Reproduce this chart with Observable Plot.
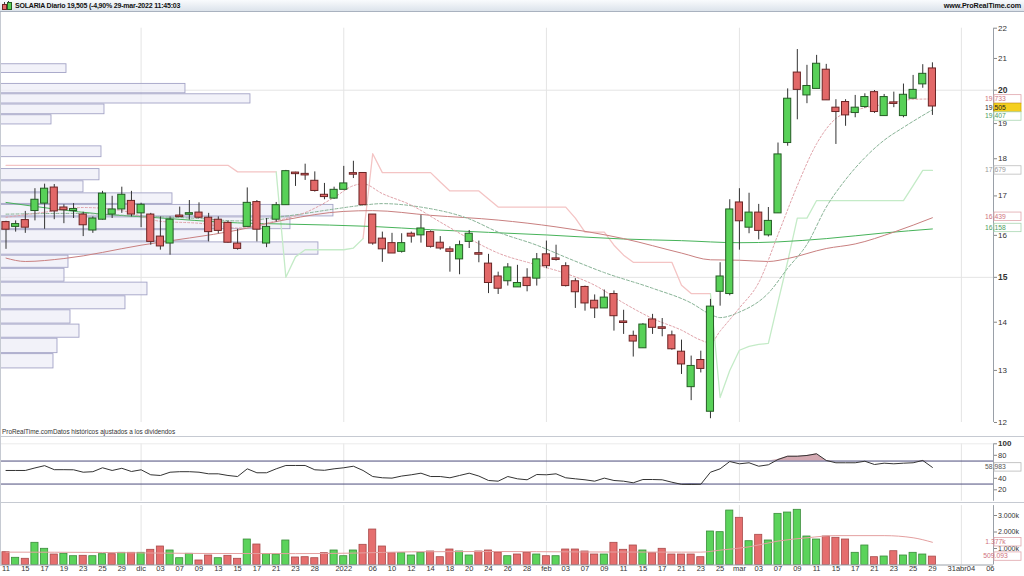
<!DOCTYPE html>
<html>
<head>
<meta charset="utf-8">
<script src="https://cdn.jsdelivr.net/npm/d3@7"></script>
<script src="https://cdn.jsdelivr.net/npm/@observablehq/plot@0.6"></script>
<style>
html,body{margin:0;padding:0;background:#fff;}
#wrap{position:relative;width:1024px;height:576px;overflow:hidden;background:#fff;font-family:"Liberation Sans",Arial,sans-serif;}
#hdr{position:absolute;left:0;top:0;width:1024px;height:11px;background:linear-gradient(#f9fbfd,#dce3eb);border-bottom:1px solid #a9b2bf;}
#hdrTitle{position:absolute;left:15px;top:0px;font-size:7px;line-height:11px;color:#111;white-space:nowrap;font-weight:bold;letter-spacing:-0.2px;}
#hdrSite{position:absolute;right:3px;top:0px;font-size:7.2px;line-height:11px;font-weight:bold;color:#111;letter-spacing:-0.1px;}
.ic{position:absolute;}
.panel{position:absolute;left:0;width:1024px;}
.sep{position:absolute;left:0;width:1024px;height:1px;background:#c6cad2;}
#note{position:absolute;left:2px;top:428px;font-size:6.4px;line-height:8px;color:#333;white-space:nowrap;}
#lborder{position:absolute;left:0;top:12px;width:1px;height:553px;background:#c6cad2;}
</style>
</head>
<body>
<div id="wrap">
  <div id="pricePanel" class="panel" style="top:12px;height:424px"></div>
  <div id="rsiPanel" class="panel" style="top:436px;height:66px"></div>
  <div id="volPanel" class="panel" style="top:502px;height:74px"></div>
  <div class="sep" style="top:436px"></div>
  <div class="sep" style="top:502px"></div>
  <div id="lborder"></div>
  <div id="note">ProRealTime.comDatos históricos ajustados a los dividendos</div>
  <div id="hdr">
    <div class="ic" style="left:4px;top:2px;width:1px;height:8px;background:#444"></div>
    <div class="ic" style="left:2px;top:4px;width:3px;height:4px;background:#e26868;border:0.5px solid #6a2424"></div>
    <div class="ic" style="left:8px;top:1px;width:1px;height:9px;background:#444"></div>
    <div class="ic" style="left:6.5px;top:2px;width:3px;height:6px;background:#58d158;border:0.5px solid #245c24"></div>
    <div id="hdrTitle"></div>
    <div id="hdrSite">www.ProRealTime.com</div>
  </div>
</div>
<script>
// ---------------- DATA ----------------
const dates = [
 "2021-11-11","2021-11-12","2021-11-15","2021-11-16","2021-11-17","2021-11-18","2021-11-19","2021-11-22","2021-11-23","2021-11-24","2021-11-25","2021-11-26","2021-11-29","2021-11-30",
 "2021-12-01","2021-12-02","2021-12-03","2021-12-06","2021-12-07","2021-12-08","2021-12-09","2021-12-10","2021-12-13","2021-12-14","2021-12-15","2021-12-16","2021-12-17","2021-12-20","2021-12-21","2021-12-22","2021-12-23","2021-12-27","2021-12-28","2021-12-29","2021-12-30",
 "2022-01-03","2022-01-04","2022-01-05","2022-01-06","2022-01-07","2022-01-10","2022-01-11","2022-01-12","2022-01-13","2022-01-14","2022-01-17","2022-01-18","2022-01-19","2022-01-20","2022-01-21","2022-01-24","2022-01-25","2022-01-26","2022-01-27","2022-01-28","2022-01-31",
 "2022-02-01","2022-02-02","2022-02-03","2022-02-04","2022-02-07","2022-02-08","2022-02-09","2022-02-10","2022-02-11","2022-02-14","2022-02-15","2022-02-16","2022-02-17","2022-02-18","2022-02-21","2022-02-22","2022-02-23","2022-02-24","2022-02-25","2022-02-28",
 "2022-03-01","2022-03-02","2022-03-03","2022-03-04","2022-03-07","2022-03-08","2022-03-09","2022-03-10","2022-03-11","2022-03-14","2022-03-15","2022-03-16","2022-03-17","2022-03-18","2022-03-21","2022-03-22","2022-03-23","2022-03-24","2022-03-25","2022-03-28","2022-03-29"
];
const futureDates = ["2022-03-30","2022-03-31","2022-04-01","2022-04-04","2022-04-05","2022-04-06"];

const open = [16.33,16.21,16.38,16.61,16.80,17.22,16.70,16.61,16.52,16.12,16.39,16.52,16.65,16.87,16.55,16.52,15.97,15.80,16.48,16.52,16.57,16.44,16.39,16.31,15.80,16.21,16.84,15.80,16.39,16.76,17.61,17.58,17.40,17.03,16.93,17.16,17.59,17.61,16.52,15.92,15.81,15.60,16.04,16.00,16.08,15.82,15.66,15.42,15.84,15.56,15.32,15.02,14.91,14.77,14.99,14.97,15.54,15.43,15.26,14.91,14.78,14.47,14.30,14.62,14.01,13.71,13.45,14.06,13.88,13.72,13.38,12.67,13.21,12.20,14.67,14.62,16.83,16.19,16.57,16.00,16.55,18.44,20.55,19.84,20.04,20.64,19.47,19.64,19.31,19.49,19.94,19.22,19.61,19.22,19.74,20.18,20.68];
const high = [16.35,16.36,16.60,17.19,17.31,17.30,16.77,16.80,16.58,16.46,17.12,16.99,17.23,17.12,16.81,16.55,16.46,16.46,16.71,16.88,16.82,16.55,16.46,16.35,16.15,17.21,16.88,16.42,16.83,17.68,17.63,17.85,17.64,17.33,17.23,17.79,17.93,17.62,16.52,16.08,16.05,16.04,16.08,16.50,16.11,15.97,15.72,15.86,16.12,15.86,15.54,15.12,15.32,15.28,15.20,15.56,15.86,15.76,15.34,14.97,14.80,14.60,14.71,14.69,14.26,13.81,13.97,14.17,14.08,13.81,13.62,13.29,13.39,14.50,15.34,16.90,17.19,17.07,16.78,16.70,18.44,20.04,21.29,20.78,21.10,20.81,19.71,19.71,19.84,19.89,19.99,19.87,19.94,20.19,20.46,20.80,20.86];
const low = [15.66,16.08,16.05,16.36,16.15,16.39,16.29,16.42,15.97,16.05,16.38,16.42,16.55,16.46,16.19,15.76,15.64,15.52,16.46,16.38,16.42,15.84,16.04,15.81,15.64,16.21,15.84,15.70,16.33,16.76,17.25,17.41,17.10,16.90,16.91,17.16,17.46,16.76,15.76,15.35,15.56,15.57,15.81,15.81,15.69,15.64,15.12,15.06,15.68,15.34,14.63,14.61,14.80,14.77,14.67,14.80,15.20,15.38,14.78,14.30,14.24,14.08,14.30,13.81,13.74,13.27,13.45,13.74,13.69,13.41,12.92,12.41,12.95,12.07,14.35,14.58,15.64,16.04,15.89,15.96,16.55,18.35,19.11,19.59,20.04,19.69,18.40,18.92,19.17,19.45,19.30,19.22,19.47,19.17,19.74,20.06,19.24];
const close = [16.14,16.28,16.19,16.90,17.19,16.60,16.63,16.66,16.25,16.42,17.06,16.65,17.03,16.52,16.77,15.84,15.73,16.39,16.47,16.55,16.44,16.08,16.11,15.82,15.67,16.82,16.14,16.21,16.76,17.66,17.59,17.55,17.13,16.97,17.16,17.33,17.58,16.76,15.80,15.66,15.56,15.81,15.97,16.17,15.72,15.68,15.60,15.76,16.04,15.54,14.87,14.74,15.23,14.87,14.80,15.42,15.26,15.42,14.80,14.66,14.41,14.30,14.54,14.13,13.99,13.59,13.95,13.88,13.87,13.43,13.12,13.09,13.03,14.34,15.02,16.65,16.35,16.57,16.11,16.36,18.12,19.74,20.01,20.13,20.83,19.69,19.34,19.24,19.47,19.79,19.34,19.79,19.60,19.86,20.01,20.51,19.505];
const prevCloseBeforeStart = 16.45;

// volume, thousands of shares
const volume = [776,436,376,1345,982,636,679,533,557,533,655,655,739,739,739,921,1121,879,412,679,273,576,412,557,376,1545,1242,655,636,1485,455,473,412,715,879,533,879,1224,2150,1121,715,715,576,739,818,473,939,818,576,818,879,758,533,636,739,636,533,533,939,939,818,636,636,1345,921,1182,879,715,982,636,636,636,473,2030,1990,3300,2860,1442,1830,1485,3100,3180,3345,1727,1545,1727,1648,1545,739,1182,473,515,836,576,739,636,509.093];
const volMaDates = ["2021-11-11","2021-11-25","2021-12-09","2021-12-23","2022-01-04","2022-01-12","2022-01-24","2022-02-07","2022-02-21","2022-02-23","2022-02-25","2022-03-02","2022-03-07","2022-03-10","2022-03-15","2022-03-22","2022-03-25","2022-03-29"];
const volMa = [780,760,700,690,720,800,820,790,780,780,900,1100,1450,1650,1780,1780,1650,1377];

// RSI(14)
const rsi = [53.6,53.6,53.6,58,62,55,55,54.8,50.6,51.5,58.3,53.6,57.4,51.8,54.8,46.1,44.9,50.6,51.5,51.5,50.6,47.8,47.8,44.9,43.1,56.5,49.6,49.6,56.5,62.3,62.3,62.3,54.8,53.9,56.5,58.3,61,53.6,43.1,40.9,40.3,43.9,46.1,48.9,43.1,43.1,40.9,44.9,48.9,43.9,36.2,35,43.1,39.1,37.4,46.6,46.1,47.8,40.9,39.1,37.4,35,40.3,36.2,35,32.2,37.9,37.9,37.4,33.2,29.5,29.3,29.6,50.6,56.5,69.2,65.2,67,61,63.5,72.7,78.4,78.4,79.7,82.6,71,67,67,67,69.7,64,66.3,65.2,66.3,67,71,58.983];
const rsiLevels = [70,30];

// trailing stop (pink above price in downtrend, green below in uptrend)
const stopDown = [17.82,17.82,17.82,17.82,17.82,17.82,17.82,17.82,17.82,17.82,17.82,17.82,17.82,17.82,17.82,17.82,17.82,17.82,17.82,17.82,17.82,17.82,17.82,17.82,
 17.64,17.64,17.64,17.64,17.64,null,null,null,null,null,null,null,null,15.92,18.14,17.62,17.62,17.62,17.62,17.62,17.62,17.37,17.13,17.13,17.13,17.13,16.92,
 16.71,16.71,16.71,16.71,16.71,16.71,16.71,16.71,16.43,16.08,16.08,16.08,15.76,15.52,15.35,15.35,15.35,15.35,15.35,14.82,14.63,14.63,14.63,
 null,null,null,null,null,null,null,null,null,null,null,null,null,null,null,null,null,null,null,null,null,null,null];
const stopUp = [null,null,null,null,null,null,null,null,null,null,null,null,null,null,null,null,null,null,null,null,null,null,null,null,null,null,null,null,
 17.64,15.00,15.48,15.65,15.65,15.65,15.65,15.65,15.69,15.92,
 null,null,null,null,null,null,null,null,null,null,null,null,null,null,null,null,null,null,null,null,null,null,null,null,null,null,null,null,null,null,null,null,null,null,null,
 14.63,12.47,13.00,13.41,13.49,13.53,13.55,14.44,15.37,16.43,16.43,16.88,16.88,16.88,16.88,16.88,16.88,16.88,16.88,16.88,16.88,17.27,17.679,17.679];

// moving averages (read at selected sessions)
const maFastDates = ["2021-11-11","2021-11-17","2021-11-23","2021-11-29","2021-12-03","2021-12-09","2021-12-15","2021-12-17","2021-12-21","2021-12-27","2021-12-30","2022-01-04","2022-01-05","2022-01-07","2022-01-12","2022-01-17","2022-01-20","2022-01-25","2022-01-31","2022-02-03","2022-02-08","2022-02-11","2022-02-16","2022-02-21","2022-02-23","2022-02-24","2022-02-25","2022-03-01","2022-03-03","2022-03-07","2022-03-09","2022-03-11","2022-03-15","2022-03-17","2022-03-22","2022-03-25","2022-03-29"];
const maFast = [16.45,16.58,16.70,16.62,16.35,16.30,16.18,16.25,16.36,16.57,16.96,17.27,17.32,17.06,16.76,16.33,15.92,15.57,15.29,15.09,14.82,14.42,14.08,13.83,13.62,13.56,13.81,14.31,14.88,16.02,17.27,18.42,19.15,19.39,19.57,19.72,19.733];
const maMidDates = ["2021-11-11","2021-11-22","2021-12-01","2021-12-09","2021-12-15","2021-12-22","2021-12-30","2022-01-05","2022-01-07","2022-01-13","2022-01-20","2022-01-25","2022-01-31","2022-02-03","2022-02-09","2022-02-16","2022-02-22","2022-02-24","2022-02-25","2022-03-01","2022-03-04","2022-03-08","2022-03-10","2022-03-14","2022-03-16","2022-03-18","2022-03-22","2022-03-24","2022-03-29"];
const maMid = [16.53,16.55,16.48,16.42,16.36,16.48,16.66,16.76,16.80,16.71,16.41,16.08,15.76,15.47,15.11,14.75,14.42,14.17,14.10,14.22,14.64,15.21,15.78,16.71,17.43,18.03,18.52,18.89,19.407];
const maSlowDates = ["2021-11-11","2021-11-15","2021-11-19","2021-12-01","2021-12-15","2021-12-22","2022-01-03","2022-01-06","2022-01-14","2022-01-25","2022-02-02","2022-02-11","2022-02-21","2022-02-24","2022-03-01","2022-03-04","2022-03-08","2022-03-14","2022-03-17","2022-03-23","2022-03-29"];
const maSlow = [15.45,15.37,15.44,15.76,16.13,16.39,16.60,16.62,16.50,16.38,16.21,15.92,15.57,15.41,15.40,15.37,15.44,15.68,15.79,16.08,16.439];
const maLongDates = ["2021-11-11","2021-11-25","2021-12-02","2021-12-15","2021-12-22","2022-01-06","2022-01-14","2022-02-01","2022-02-11","2022-02-21","2022-03-01","2022-03-07","2022-03-14","2022-03-22","2022-03-29"];
const maLong = [16.83,16.53,16.45,16.31,16.28,16.22,16.14,16.01,15.91,15.87,15.82,15.84,15.92,16.06,16.158];

// volume-at-price profile
const profLow  = [20.52,19.89,19.58,19.26,18.96,18.03,17.40,17.08,16.78,16.46,16.14,15.84,15.52,15.21,14.89,14.58,14.27,13.96,13.66,13.34,13.03];
const profHigh = [20.83,20.21,19.89,19.58,19.26,18.36,17.73,17.40,17.08,16.78,16.46,16.14,15.84,15.52,15.21,14.89,14.58,14.27,13.96,13.66,13.34];
const profVol  = [66,185,250,104,51,101,99,83,172,333,290,208,318,68,64,147,125,70,79,57,53];

// axes
const tickDates = ["2021-11-11","2021-11-15","2021-11-17","2021-11-19","2021-11-23","2021-11-25","2021-11-29","2021-12-01","2021-12-03","2021-12-07","2021-12-09","2021-12-13","2021-12-15","2021-12-17","2021-12-21","2021-12-23","2021-12-28","2022-01-03","2022-01-06","2022-01-10","2022-01-12","2022-01-14","2022-01-18","2022-01-20","2022-01-24","2022-01-26","2022-01-28","2022-02-01","2022-02-03","2022-02-07","2022-02-09","2022-02-11","2022-02-15","2022-02-17","2022-02-21","2022-02-23","2022-02-25","2022-03-01","2022-03-03","2022-03-07","2022-03-09","2022-03-11","2022-03-15","2022-03-17","2022-03-21","2022-03-23","2022-03-25","2022-03-29","2022-03-31","2022-04-01","2022-04-04","2022-04-06"];
const tickLabels = ["11","15","17","19","23","25","29","dic","03","07","09","13","15","17","21","23","28","2022","06","10","12","14","18","20","24","26","28","feb","03","07","09","11","15","17","21","23","25","mar","03","07","09","11","15","17","21","23","25","29","31","abr","04","06"];
const monthLabels = ["dic","2022","feb","mar","abr"];
const gridDates = ["2021-12-01","2022-01-03","2022-02-01","2022-03-01","2022-04-01"];
const priceTicks = [12,13,14,16,17,18,19,21,22];
const priceBoldTicks = [15,20];
const rsiTicks = [20,40,80];
const rsiBoldTicks = [100];
const volTicks = [1000,2000,3000];

// ---------------- RENDER ----------------
const allDates = dates.concat(futureDates);
const ix = d => allDates.indexOf(d);
const XD = [-0.57, 102.33];
const W = 1024, MR = 31;
const FONT = "'Liberation Sans', Arial, sans-serif";
const GREEN = "#58d158", GREEN_EDGE = "#245c24", RED = "#e26868", RED_EDGE = "#6a2424";
const VGREEN = "#5bd35b", VGREEN_EDGE = "#3a8c3a", VRED = "#e56e6e", VRED_EDGE = "#a84a4a";
const HW = 0.37;
const BH = 8.4; // badge height
const fmtC = (v, d=3) => v.toFixed(d).replace(".", ",");

const bars = dates.map((d, i) => ({
  i, o: open[i], h: high[i], l: low[i], c: close[i], v: volume[i], r: rsi[i],
  up: close[i] >= (i ? close[i-1] : prevCloseBeforeStart)
}));
const bodyLo = d => { const a = Math.min(d.o, d.c), b = Math.max(d.o, d.c); if (b / a < 1.0024) { const m = Math.sqrt(a * b); return m / 1.0012; } return a; };
const bodyHi = d => { const a = Math.min(d.o, d.c), b = Math.max(d.o, d.c); if (b / a < 1.0024) { const m = Math.sqrt(a * b); return m * 1.0012; } return b; };

const sparse = (ds, vs) => ds.map((d, k) => ({i: ix(d), v: vs[k]}));
const stopDn = stopDown.map((v, i) => ({i, v}));
const stopUpR = stopUp.map((v, i) => ({i, v}));
const prof = profLow.map((lo, k) => ({lo, hi: profHigh[k], v: profVol[k]}));
const profMax = d3.max(profVol);
const profSpan = 34.5; // share of the x extent used by the longest profile row
const gridIx = gridDates.map(ix);
const ticks = tickDates.map((d, k) => ({i: ix(d), t: tickLabels[k], b: monthLabels.includes(tickLabels[k])}));

function badge(svg, y, label, fill, stroke, color) {
  const g = d3.select(svg).append("g");
  g.append("rect").attr("x", 994).attr("y", y - BH / 2).attr("width", 27).attr("height", BH)
    .attr("fill", fill).attr("stroke", stroke).attr("stroke-width", 0.8);
  g.append("text").attr("x", 995.5).attr("y", y).attr("dy", "0.35em")
    .attr("font-size", 6.8).attr("font-family", FONT).attr("fill", color).text(label);
}
// place badges top-down so they do not overlap
function badgeStack(svg, items) {
  items.sort((a, b) => a.y - b.y);
  let prevY = -Infinity;
  for (const it of items) {
    const y = Math.max(it.y, prevY + BH + 0.2);
    badge(svg, y, it.label, it.fill, it.stroke, it.color);
    prevY = y;
  }
}

// ---- price panel ----
const pricePlot = Plot.plot({
  width: W, height: 424, marginLeft: 0, marginRight: MR, marginTop: 15.7, marginBottom: 14,
  x: {domain: XD, axis: null},
  y: {type: "log", domain: [12, 22], axis: null},
  style: {fontFamily: FONT, background: "transparent", color: "#333", overflow: "visible"},
  marks: [
    Plot.ruleY(priceBoldTicks, {stroke: "#e4e4e4"}),
    Plot.ruleX(gridIx, {stroke: "#e4e4e4"}),
    Plot.rect(prof, {x1: () => XD[0], x2: d => XD[0] + d.v / profMax * profSpan, y1: "lo", y2: "hi",
      fill: "#ededf7", fillOpacity: 0.75, stroke: "#a3a3c6", strokeWidth: 0.9, insetTop: 0.5, insetBottom: 0.5}),
    Plot.line(stopDn, {x: "i", y: "v", stroke: "#f4c4c4", strokeWidth: 1.3}),
    Plot.line(stopUpR, {x: "i", y: "v", stroke: "#c4ebc7", strokeWidth: 1.3}),
    Plot.line(sparse(maLongDates, maLong), {x: "i", y: "v", stroke: "#47b35a", strokeWidth: 1, curve: "monotone-x"}),
    Plot.line(sparse(maSlowDates, maSlow), {x: "i", y: "v", stroke: "#c98080", strokeWidth: 1, curve: "monotone-x"}),
    Plot.line(sparse(maMidDates, maMid), {x: "i", y: "v", stroke: "#88b396", strokeWidth: 1, strokeDasharray: "3,2", curve: "monotone-x"}),
    Plot.line(sparse(maFastDates, maFast), {x: "i", y: "v", stroke: "#e0a2a9", strokeWidth: 1, strokeDasharray: "2,2", curve: "monotone-x"}),
    Plot.ruleX(bars, {x: "i", y1: "l", y2: "h", stroke: "#333", strokeWidth: 1}),
    Plot.rect(bars, {x1: d => d.i - HW, x2: d => d.i + HW, y1: bodyLo, y2: bodyHi,
      fill: d => d.c >= d.o ? GREEN : RED, stroke: d => d.c >= d.o ? GREEN_EDGE : RED_EDGE, strokeWidth: 1}),
    Plot.ruleX([XD[1]], {stroke: "#9aa0a8"}),
    Plot.axisY({anchor: "right", ticks: priceTicks, tickSize: 3, tickPadding: 1.5, fontSize: 8, stroke: "#888", label: null}),
    Plot.axisY({anchor: "right", ticks: priceBoldTicks, tickSize: 3, tickPadding: 1.5, fontSize: 8.5, fontWeight: "bold", stroke: "#888", label: null})
  ]
});
document.getElementById("pricePanel").appendChild(pricePlot);
{
  const ys = pricePlot.scale("y");
  const L = a => a[a.length - 1];
  const PINK = ["#fff", "#e0a6ac", "#d0737e"], GRN = ["#fff", "#a8d6b2", "#4f9e62"];
  badgeStack(pricePlot, [
    {y: ys.apply(L(maFast)) + 0.4, label: fmtC(L(maFast)), fill: PINK[0], stroke: PINK[1], color: PINK[2]},
    {y: ys.apply(L(close)), label: fmtC(L(close)), fill: "#f5cf1f", stroke: "#d6ae00", color: "#222"},
    {y: ys.apply(L(maMid)), label: fmtC(L(maMid)), fill: GRN[0], stroke: GRN[1], color: GRN[2]}
  ]);
  badgeStack(pricePlot, [
    {y: ys.apply(L(stopUp)), label: fmtC(L(stopUp)), fill: "#fff", stroke: "#bdbdbd", color: "#999"}
  ]);
  badgeStack(pricePlot, [
    {y: ys.apply(L(maSlow)) - 1, label: fmtC(L(maSlow)), fill: PINK[0], stroke: PINK[1], color: PINK[2]},
    {y: ys.apply(L(maLong)) - 1, label: fmtC(L(maLong)), fill: GRN[0], stroke: GRN[1], color: GRN[2]}
  ]);
}

// ---- RSI panel ----
const rsiPlot = Plot.plot({
  width: W, height: 66, marginLeft: 0, marginRight: MR, marginTop: 7.3, marginBottom: 1.2,
  x: {domain: XD, axis: null},
  y: {domain: [0, 100], axis: null},
  style: {fontFamily: FONT, background: "transparent", color: "#333", overflow: "visible"},
  marks: [
    Plot.ruleX(gridIx, {stroke: "#e4e4e4"}),
    Plot.ruleY([100], {stroke: "#ececec"}),
    Plot.areaY(bars, {x: "i", y1: () => 70, y2: d => Math.max(d.r, 70), fill: "#cfa0aa", fillOpacity: 0.9}),
    Plot.areaY(bars, {x: "i", y1: d => Math.min(d.r, 30), y2: () => 30, fill: "#3a3a66"}),
    Plot.ruleY(rsiLevels, {stroke: "#4d4d7c", strokeWidth: 1}),
    Plot.line(bars, {x: "i", y: "r", stroke: "#333", strokeWidth: 1}),
    Plot.ruleX([XD[1]], {stroke: "#9aa0a8"}),
    Plot.axisY({anchor: "right", ticks: rsiTicks, tickSize: 3, tickPadding: 1.5, fontSize: 7.5, stroke: "#888", label: null}),
    Plot.axisY({anchor: "right", ticks: rsiBoldTicks, tickSize: 3, tickPadding: 1.5, fontSize: 8, fontWeight: "bold", stroke: "#888", label: null})
  ]
});
document.getElementById("rsiPanel").appendChild(rsiPlot);
{
  const ys = rsiPlot.scale("y");
  badge(rsiPlot, ys.apply(rsi[rsi.length-1]), fmtC(rsi[rsi.length-1]), "#fff", "#b8b8b8", "#555");
}

// ---- volume panel ----
const volPlot = Plot.plot({
  width: W, height: 74, marginLeft: 0, marginRight: MR, marginTop: 13, marginBottom: 11.5,
  x: {domain: XD, axis: null},
  y: {domain: [0, 3000], axis: null},
  style: {fontFamily: FONT, background: "transparent", color: "#333", overflow: "visible"},
  marks: [
    Plot.ruleX(gridIx, {stroke: "#e4e4e4", y1: () => 0, y2: () => 3600}),
    Plot.rect(bars, {x1: d => d.i - HW, x2: d => d.i + HW, y1: () => 0, y2: "v",
      fill: d => d.up ? VGREEN : VRED, stroke: d => d.up ? VGREEN_EDGE : VRED_EDGE, strokeWidth: 0.8}),
    Plot.line(sparse(volMaDates, volMa), {x: "i", y: "v", stroke: "#e4a0a0", strokeWidth: 1, curve: "monotone-x"}),
    Plot.ruleY([0], {stroke: "#9aa0a8"}),
    Plot.ruleX([XD[1]], {stroke: "#9aa0a8", y1: () => 0, y2: () => 3600}),
    Plot.axisY({anchor: "right", ticks: volTicks, tickSize: 3, tickPadding: 1.5, fontSize: 7, label: null,
      tickFormat: d => d3.format(",")(d).replace(/,/g, ".") + "k", stroke: "#888"}),
    Plot.text(ticks, {x: "i", text: "t", frameAnchor: "bottom", dy: 6.2, fontSize: 7.5,
      fontWeight: d => d.b ? "bold" : "normal", fill: "#333"})
  ]
});
document.getElementById("volPanel").appendChild(volPlot);
{
  const ys = volPlot.scale("y");
  const lastMa = volMa[volMa.length-1], lastV = volume[volume.length-1];
  badge(volPlot, ys.apply(lastMa), d3.format(",")(lastMa).replace(/,/g, ".") + "k", "#fff", "#e0a6ac", "#d0737e");
  badge(volPlot, ys.apply(lastV), d3.format(",")(Math.round(lastV * 1000)).replace(/,/g, "."), "#fff", "#e0a6ac", "#d0737e");
}

// header
const last = close[close.length-1], prev = close[close.length-2];
document.getElementById("hdrTitle").textContent =
  "SOLARIA Diario " + fmtC(last) + " (" + fmtC((last / prev - 1) * 100, 2) + "% 29-mar-2022 11:45:03";
</script>
</body>
</html>
